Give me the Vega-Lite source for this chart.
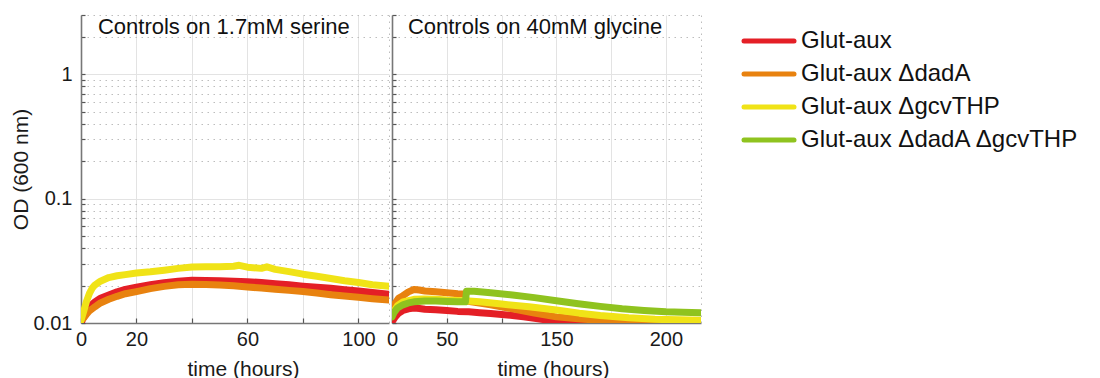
{
  "$schema": "https://vega.github.io/schema/vega-lite/v6.json",
  "padding": {"left": 10, "top": 5, "right": 5, "bottom": 0},
  "background": "white",
  "config": {
    "font": "Liberation Sans",
    "view": {"stroke": null},
    "concat": {"spacing": -4},
    "axis": {
      "domainColor": "#777777",
      "domainWidth": 1.6,
      "tickColor": "#555555",
      "tickSize": -5,
      "tickWidth": 1.2,
      "labelFont": "Liberation Sans",
      "labelFontSize": 20,
      "labelColor": "#1a1a1a",
      "titleFont": "Liberation Sans",
      "titleFontSize": 21,
      "titleFontWeight": "normal",
      "titleColor": "#1a1a1a",
      "labelFlush": false,
      "labelOverlap": false,
      "gridWidth": 1
    },
    "axisX": {"labelPadding": 11, "titlePadding": 9},
    "legend": {
      "labelFont": "Liberation Sans",
      "labelFontSize": 24,
      "labelColor": "#111111",
      "labelLimit": 500
    }
  },
  "datasets": {
    "serine": [
      {"strain": "Glut-aux", "hours": 0, "od": 0.0100},
      {"strain": "Glut-aux", "hours": 1, "od": 0.0112},
      {"strain": "Glut-aux", "hours": 2, "od": 0.0125},
      {"strain": "Glut-aux", "hours": 3, "od": 0.0135},
      {"strain": "Glut-aux", "hours": 5, "od": 0.0148},
      {"strain": "Glut-aux", "hours": 7, "od": 0.0158},
      {"strain": "Glut-aux", "hours": 10, "od": 0.0168},
      {"strain": "Glut-aux", "hours": 13, "od": 0.0178},
      {"strain": "Glut-aux", "hours": 16, "od": 0.0186},
      {"strain": "Glut-aux", "hours": 20, "od": 0.0194},
      {"strain": "Glut-aux", "hours": 25, "od": 0.0203},
      {"strain": "Glut-aux", "hours": 30, "od": 0.0211},
      {"strain": "Glut-aux", "hours": 35, "od": 0.0217},
      {"strain": "Glut-aux", "hours": 40, "od": 0.0221},
      {"strain": "Glut-aux", "hours": 45, "od": 0.0220},
      {"strain": "Glut-aux", "hours": 50, "od": 0.0219},
      {"strain": "Glut-aux", "hours": 55, "od": 0.0217},
      {"strain": "Glut-aux", "hours": 60, "od": 0.0215},
      {"strain": "Glut-aux", "hours": 65, "od": 0.0212},
      {"strain": "Glut-aux", "hours": 70, "od": 0.0207},
      {"strain": "Glut-aux", "hours": 75, "od": 0.0203},
      {"strain": "Glut-aux", "hours": 80, "od": 0.0198},
      {"strain": "Glut-aux", "hours": 85, "od": 0.0194},
      {"strain": "Glut-aux", "hours": 90, "od": 0.0190},
      {"strain": "Glut-aux", "hours": 95, "od": 0.0185},
      {"strain": "Glut-aux", "hours": 100, "od": 0.0181},
      {"strain": "Glut-aux", "hours": 105, "od": 0.0176},
      {"strain": "Glut-aux", "hours": 111, "od": 0.0170},
      {"strain": "Glut-aux ΔdadA", "hours": 0, "od": 0.0105},
      {"strain": "Glut-aux ΔdadA", "hours": 1, "od": 0.0110},
      {"strain": "Glut-aux ΔdadA", "hours": 2, "od": 0.0118},
      {"strain": "Glut-aux ΔdadA", "hours": 3, "od": 0.0125},
      {"strain": "Glut-aux ΔdadA", "hours": 5, "od": 0.0135},
      {"strain": "Glut-aux ΔdadA", "hours": 7, "od": 0.0145},
      {"strain": "Glut-aux ΔdadA", "hours": 10, "od": 0.0155},
      {"strain": "Glut-aux ΔdadA", "hours": 13, "od": 0.0164},
      {"strain": "Glut-aux ΔdadA", "hours": 16, "od": 0.0172},
      {"strain": "Glut-aux ΔdadA", "hours": 20, "od": 0.0179},
      {"strain": "Glut-aux ΔdadA", "hours": 25, "od": 0.0189},
      {"strain": "Glut-aux ΔdadA", "hours": 30, "od": 0.0197},
      {"strain": "Glut-aux ΔdadA", "hours": 35, "od": 0.0203},
      {"strain": "Glut-aux ΔdadA", "hours": 40, "od": 0.0205},
      {"strain": "Glut-aux ΔdadA", "hours": 45, "od": 0.0204},
      {"strain": "Glut-aux ΔdadA", "hours": 50, "od": 0.0202},
      {"strain": "Glut-aux ΔdadA", "hours": 55, "od": 0.0199},
      {"strain": "Glut-aux ΔdadA", "hours": 60, "od": 0.0195},
      {"strain": "Glut-aux ΔdadA", "hours": 65, "od": 0.0191},
      {"strain": "Glut-aux ΔdadA", "hours": 70, "od": 0.0187},
      {"strain": "Glut-aux ΔdadA", "hours": 75, "od": 0.0183},
      {"strain": "Glut-aux ΔdadA", "hours": 80, "od": 0.0179},
      {"strain": "Glut-aux ΔdadA", "hours": 85, "od": 0.0174},
      {"strain": "Glut-aux ΔdadA", "hours": 90, "od": 0.0169},
      {"strain": "Glut-aux ΔdadA", "hours": 95, "od": 0.0165},
      {"strain": "Glut-aux ΔdadA", "hours": 100, "od": 0.0161},
      {"strain": "Glut-aux ΔdadA", "hours": 105, "od": 0.0157},
      {"strain": "Glut-aux ΔdadA", "hours": 111, "od": 0.0153},
      {"strain": "Glut-aux ΔgcvTHP", "hours": 0, "od": 0.0105},
      {"strain": "Glut-aux ΔgcvTHP", "hours": 1, "od": 0.0125},
      {"strain": "Glut-aux ΔgcvTHP", "hours": 2, "od": 0.0150},
      {"strain": "Glut-aux ΔgcvTHP", "hours": 3, "od": 0.0172},
      {"strain": "Glut-aux ΔgcvTHP", "hours": 4, "od": 0.0190},
      {"strain": "Glut-aux ΔgcvTHP", "hours": 5, "od": 0.0202},
      {"strain": "Glut-aux ΔgcvTHP", "hours": 7, "od": 0.0217},
      {"strain": "Glut-aux ΔgcvTHP", "hours": 10, "od": 0.0232},
      {"strain": "Glut-aux ΔgcvTHP", "hours": 13, "od": 0.0240},
      {"strain": "Glut-aux ΔgcvTHP", "hours": 16, "od": 0.0245},
      {"strain": "Glut-aux ΔgcvTHP", "hours": 20, "od": 0.0252},
      {"strain": "Glut-aux ΔgcvTHP", "hours": 25, "od": 0.0258},
      {"strain": "Glut-aux ΔgcvTHP", "hours": 30, "od": 0.0266},
      {"strain": "Glut-aux ΔgcvTHP", "hours": 35, "od": 0.0275},
      {"strain": "Glut-aux ΔgcvTHP", "hours": 40, "od": 0.0282},
      {"strain": "Glut-aux ΔgcvTHP", "hours": 45, "od": 0.0284},
      {"strain": "Glut-aux ΔgcvTHP", "hours": 50, "od": 0.0283},
      {"strain": "Glut-aux ΔgcvTHP", "hours": 55, "od": 0.0286},
      {"strain": "Glut-aux ΔgcvTHP", "hours": 57, "od": 0.0291},
      {"strain": "Glut-aux ΔgcvTHP", "hours": 60, "od": 0.0281},
      {"strain": "Glut-aux ΔgcvTHP", "hours": 65, "od": 0.0275},
      {"strain": "Glut-aux ΔgcvTHP", "hours": 67, "od": 0.0283},
      {"strain": "Glut-aux ΔgcvTHP", "hours": 70, "od": 0.0270},
      {"strain": "Glut-aux ΔgcvTHP", "hours": 75, "od": 0.0259},
      {"strain": "Glut-aux ΔgcvTHP", "hours": 80, "od": 0.0247},
      {"strain": "Glut-aux ΔgcvTHP", "hours": 85, "od": 0.0238},
      {"strain": "Glut-aux ΔgcvTHP", "hours": 90, "od": 0.0228},
      {"strain": "Glut-aux ΔgcvTHP", "hours": 95, "od": 0.0219},
      {"strain": "Glut-aux ΔgcvTHP", "hours": 100, "od": 0.0212},
      {"strain": "Glut-aux ΔgcvTHP", "hours": 105, "od": 0.0203},
      {"strain": "Glut-aux ΔgcvTHP", "hours": 111, "od": 0.0197}
    ],
    "glycine": [
      {"strain": "Glut-aux", "hours": 0, "od": 0.0102},
      {"strain": "Glut-aux", "hours": 3, "od": 0.0112},
      {"strain": "Glut-aux", "hours": 6, "od": 0.0120},
      {"strain": "Glut-aux", "hours": 10, "od": 0.0126},
      {"strain": "Glut-aux", "hours": 15, "od": 0.0130},
      {"strain": "Glut-aux", "hours": 20, "od": 0.0132},
      {"strain": "Glut-aux", "hours": 25, "od": 0.0131},
      {"strain": "Glut-aux", "hours": 30, "od": 0.0129},
      {"strain": "Glut-aux", "hours": 40, "od": 0.0128},
      {"strain": "Glut-aux", "hours": 50, "od": 0.0126},
      {"strain": "Glut-aux", "hours": 60, "od": 0.0124},
      {"strain": "Glut-aux", "hours": 70, "od": 0.0123},
      {"strain": "Glut-aux", "hours": 80, "od": 0.0121},
      {"strain": "Glut-aux", "hours": 90, "od": 0.0119},
      {"strain": "Glut-aux", "hours": 100, "od": 0.0117},
      {"strain": "Glut-aux", "hours": 110, "od": 0.0115},
      {"strain": "Glut-aux", "hours": 120, "od": 0.0112},
      {"strain": "Glut-aux", "hours": 130, "od": 0.0109},
      {"strain": "Glut-aux", "hours": 140, "od": 0.0106},
      {"strain": "Glut-aux", "hours": 150, "od": 0.0104},
      {"strain": "Glut-aux", "hours": 160, "od": 0.0102},
      {"strain": "Glut-aux", "hours": 170, "od": 0.0100},
      {"strain": "Glut-aux", "hours": 185, "od": 0.0098},
      {"strain": "Glut-aux", "hours": 210, "od": 0.0097},
      {"strain": "Glut-aux", "hours": 240, "od": 0.0097},
      {"strain": "Glut-aux", "hours": 282, "od": 0.0098},
      {"strain": "Glut-aux ΔdadA", "hours": 0, "od": 0.0125},
      {"strain": "Glut-aux ΔdadA", "hours": 3, "od": 0.0145},
      {"strain": "Glut-aux ΔdadA", "hours": 6, "od": 0.0158},
      {"strain": "Glut-aux ΔdadA", "hours": 10, "od": 0.0166},
      {"strain": "Glut-aux ΔdadA", "hours": 15, "od": 0.0178},
      {"strain": "Glut-aux ΔdadA", "hours": 20, "od": 0.0186},
      {"strain": "Glut-aux ΔdadA", "hours": 25, "od": 0.0184},
      {"strain": "Glut-aux ΔdadA", "hours": 30, "od": 0.0181},
      {"strain": "Glut-aux ΔdadA", "hours": 40, "od": 0.0178},
      {"strain": "Glut-aux ΔdadA", "hours": 50, "od": 0.0175},
      {"strain": "Glut-aux ΔdadA", "hours": 60, "od": 0.0172},
      {"strain": "Glut-aux ΔdadA", "hours": 66, "od": 0.0171},
      {"strain": "Glut-aux ΔdadA", "hours": 68, "od": 0.0150},
      {"strain": "Glut-aux ΔdadA", "hours": 90, "od": 0.0140},
      {"strain": "Glut-aux ΔdadA", "hours": 110, "od": 0.0130},
      {"strain": "Glut-aux ΔdadA", "hours": 130, "od": 0.0120},
      {"strain": "Glut-aux ΔdadA", "hours": 150, "od": 0.0112},
      {"strain": "Glut-aux ΔdadA", "hours": 170, "od": 0.0108},
      {"strain": "Glut-aux ΔdadA", "hours": 190, "od": 0.0105},
      {"strain": "Glut-aux ΔdadA", "hours": 210, "od": 0.0103},
      {"strain": "Glut-aux ΔdadA", "hours": 230, "od": 0.0102},
      {"strain": "Glut-aux ΔdadA", "hours": 250, "od": 0.0101},
      {"strain": "Glut-aux ΔdadA", "hours": 282, "od": 0.0100},
      {"strain": "Glut-aux ΔgcvTHP", "hours": 0, "od": 0.0118},
      {"strain": "Glut-aux ΔgcvTHP", "hours": 5, "od": 0.0138},
      {"strain": "Glut-aux ΔgcvTHP", "hours": 10, "od": 0.0148},
      {"strain": "Glut-aux ΔgcvTHP", "hours": 20, "od": 0.0155},
      {"strain": "Glut-aux ΔgcvTHP", "hours": 30, "od": 0.0156},
      {"strain": "Glut-aux ΔgcvTHP", "hours": 40, "od": 0.0155},
      {"strain": "Glut-aux ΔgcvTHP", "hours": 50, "od": 0.0153},
      {"strain": "Glut-aux ΔgcvTHP", "hours": 60, "od": 0.0152},
      {"strain": "Glut-aux ΔgcvTHP", "hours": 67, "od": 0.0151},
      {"strain": "Glut-aux ΔgcvTHP", "hours": 80, "od": 0.0148},
      {"strain": "Glut-aux ΔgcvTHP", "hours": 100, "od": 0.0142},
      {"strain": "Glut-aux ΔgcvTHP", "hours": 125, "od": 0.0135},
      {"strain": "Glut-aux ΔgcvTHP", "hours": 150, "od": 0.0127},
      {"strain": "Glut-aux ΔgcvTHP", "hours": 171, "od": 0.0120},
      {"strain": "Glut-aux ΔgcvTHP", "hours": 190, "od": 0.0115},
      {"strain": "Glut-aux ΔgcvTHP", "hours": 216, "od": 0.0110},
      {"strain": "Glut-aux ΔgcvTHP", "hours": 240, "od": 0.0107},
      {"strain": "Glut-aux ΔgcvTHP", "hours": 262, "od": 0.0106},
      {"strain": "Glut-aux ΔgcvTHP", "hours": 282, "od": 0.0105},
      {"strain": "Glut-aux ΔdadA ΔgcvTHP", "hours": 0, "od": 0.0112},
      {"strain": "Glut-aux ΔdadA ΔgcvTHP", "hours": 2, "od": 0.0122},
      {"strain": "Glut-aux ΔdadA ΔgcvTHP", "hours": 5, "od": 0.0132},
      {"strain": "Glut-aux ΔdadA ΔgcvTHP", "hours": 10, "od": 0.0140},
      {"strain": "Glut-aux ΔdadA ΔgcvTHP", "hours": 15, "od": 0.0145},
      {"strain": "Glut-aux ΔdadA ΔgcvTHP", "hours": 20, "od": 0.0148},
      {"strain": "Glut-aux ΔdadA ΔgcvTHP", "hours": 30, "od": 0.0150},
      {"strain": "Glut-aux ΔdadA ΔgcvTHP", "hours": 40, "od": 0.0150},
      {"strain": "Glut-aux ΔdadA ΔgcvTHP", "hours": 50, "od": 0.0149},
      {"strain": "Glut-aux ΔdadA ΔgcvTHP", "hours": 60, "od": 0.0148},
      {"strain": "Glut-aux ΔdadA ΔgcvTHP", "hours": 67, "od": 0.0148},
      {"strain": "Glut-aux ΔdadA ΔgcvTHP", "hours": 68, "od": 0.0180},
      {"strain": "Glut-aux ΔdadA ΔgcvTHP", "hours": 75, "od": 0.0180},
      {"strain": "Glut-aux ΔdadA ΔgcvTHP", "hours": 90, "od": 0.0175},
      {"strain": "Glut-aux ΔdadA ΔgcvTHP", "hours": 110, "od": 0.0168},
      {"strain": "Glut-aux ΔdadA ΔgcvTHP", "hours": 130, "od": 0.0160},
      {"strain": "Glut-aux ΔdadA ΔgcvTHP", "hours": 150, "od": 0.0151},
      {"strain": "Glut-aux ΔdadA ΔgcvTHP", "hours": 170, "od": 0.0143},
      {"strain": "Glut-aux ΔdadA ΔgcvTHP", "hours": 190, "od": 0.0136},
      {"strain": "Glut-aux ΔdadA ΔgcvTHP", "hours": 210, "od": 0.0130},
      {"strain": "Glut-aux ΔdadA ΔgcvTHP", "hours": 230, "od": 0.0126},
      {"strain": "Glut-aux ΔdadA ΔgcvTHP", "hours": 250, "od": 0.0123},
      {"strain": "Glut-aux ΔdadA ΔgcvTHP", "hours": 265, "od": 0.0122},
      {"strain": "Glut-aux ΔdadA ΔgcvTHP", "hours": 282, "od": 0.0121}
    ]
  },
  "resolve": {"scale": {"color": "shared"}},
  "hconcat": [
    {
      "width": 308,
      "height": 308,
      "layer": [
        {
          "data": {"name": "serine"},
          "mark": {"type": "line", "strokeWidth": 7, "clip": true, "strokeCap": "round", "strokeJoin": "round"},
          "encoding": {
            "x": {
              "field": "hours", "type": "quantitative",
              "scale": {"domain": [0, 111], "nice": false, "zero": false},
              "axis": {
                "title": "time (hours)",
                "titleX": 162,
                "values": [0, 20, 40, 60, 80, 100, 111],
                "labelExpr": "indexof([0, 20, 60, 100], datum.value) >= 0 ? datum.label : ''",
                "grid": true,
                "gridColor": {"condition": {"test": "datum.value > 110", "value": "#bdbdbd"}, "value": "#e3e3e3"},
                "gridDash": {"condition": {"test": "datum.value > 110", "value": [1.5, 4.5]}, "value": []},
                "tickColor": {"condition": {"test": "datum.value > 110", "value": "transparent"}, "value": "#555555"}
              }
            },
            "y": {
              "field": "od", "type": "quantitative",
              "scale": {"type": "log", "domain": [0.01, 3], "nice": false},
              "axis": {
                "title": "OD (600 nm)",
                "titlePadding": 2,
                "labelPadding": 13,
                "values": [0.01, 0.02, 0.03, 0.04, 0.05, 0.06, 0.07, 0.08, 0.09, 0.1, 0.2, 0.3, 0.4, 0.5, 0.6, 0.7, 0.8, 0.9, 1, 2, 3],
                "labelExpr": "datum.value == 0.01 ? '0.01' : datum.value == 0.1 ? '0.1' : datum.value == 1 ? '1' : ''",
                "grid": true,
                "gridColor": {"condition": {"test": "datum.value == 0.1 || datum.value == 1", "value": "#e3e3e3"}, "value": "#bdbdbd"},
                "gridDash": {"condition": {"test": "datum.value == 0.1 || datum.value == 1", "value": []}, "value": [1.5, 4.5]},
                "tickSize": -4
              }
            },
            "color": {
              "field": "strain", "type": "nominal",
              "scale": {
                "domain": ["Glut-aux", "Glut-aux ΔdadA", "Glut-aux ΔgcvTHP", "Glut-aux ΔdadA ΔgcvTHP"],
                "range": ["#e41f26", "#e8820f", "#f0e317", "#8fc31f"]
              },
              "legend": {
                "title": null,
                "orient": "right",
                "offset": 16,
                "padding": 14,
                "symbolType": "M0,0H50",
                "symbolSize": 4,
                "symbolStrokeWidth": 5,
                "labelOffset": 45,
                "rowPadding": 9,
                "encode": {"symbols": {"update": {"strokeCap": {"value": "round"}}}}
              }
            }
          }
        },
        {
          "data": {"values": [{"label": "Controls on 1.7mM serine"}]},
          "mark": {"type": "text", "align": "left", "baseline": "alphabetic", "fontSize": 22, "font": "Liberation Sans", "color": "#111111"},
          "encoding": {
            "text": {"field": "label"},
            "x": {"datum": 6.1},
            "y": {"datum": 2.1}
          }
        }
      ]
    },
    {
      "width": 309,
      "height": 308,
      "layer": [
        {
          "data": {"name": "glycine"},
          "mark": {"type": "line", "strokeWidth": 7, "clip": true, "strokeCap": "round", "strokeJoin": "round"},
          "encoding": {
            "x": {
              "field": "hours", "type": "quantitative",
              "scale": {"domain": [0, 282], "nice": false, "zero": false},
              "axis": {
                "title": "time (hours)",
                "titleX": 161,
                "values": [0, 50, 100, 150, 200, 250, 282],
                "labelExpr": "datum.value == 0 ? '0' : datum.value == 50 ? '50' : datum.value == 150 ? '150' : datum.value == 250 ? '200' : ''",
                "grid": true,
                "gridColor": {"condition": {"test": "datum.value > 280", "value": "#bdbdbd"}, "value": "#e3e3e3"},
                "gridDash": {"condition": {"test": "datum.value > 280", "value": [1.5, 4.5]}, "value": []},
                "tickColor": {"condition": {"test": "datum.value > 280", "value": "transparent"}, "value": "#555555"}
              }
            },
            "y": {
              "field": "od", "type": "quantitative",
              "scale": {"type": "log", "domain": [0.01, 3], "nice": false},
              "axis": {
                "title": null,
                "labels": false,
                "values": [0.01, 0.02, 0.03, 0.04, 0.05, 0.06, 0.07, 0.08, 0.09, 0.1, 0.2, 0.3, 0.4, 0.5, 0.6, 0.7, 0.8, 0.9, 1, 2, 3],
                "grid": true,
                "gridColor": {"condition": {"test": "datum.value == 0.1 || datum.value == 1", "value": "#e3e3e3"}, "value": "#bdbdbd"},
                "gridDash": {"condition": {"test": "datum.value == 0.1 || datum.value == 1", "value": []}, "value": [1.5, 4.5]},
                "tickSize": -4
              }
            },
            "color": {"field": "strain", "type": "nominal"}
          }
        },
        {
          "data": {"values": [{"label": "Controls on 40mM glycine"}]},
          "mark": {"type": "text", "align": "left", "baseline": "alphabetic", "fontSize": 22, "font": "Liberation Sans", "color": "#111111"},
          "encoding": {
            "text": {"field": "label"},
            "x": {"datum": 14.5},
            "y": {"datum": 2.1}
          }
        }
      ]
    }
  ]
}
